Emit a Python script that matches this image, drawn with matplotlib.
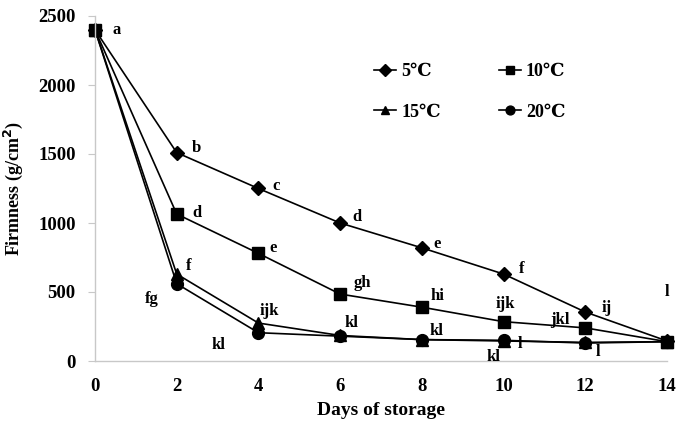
import matplotlib
matplotlib.use("Agg")
import matplotlib.pyplot as plt

plt.rcParams['font.family'] = ['Liberation Serif', 'DejaVu Serif']
plt.rcParams['font.weight'] = 'bold'

days = [0, 2, 4, 6, 8, 10, 12, 14]
firm_5 = [2400, 1510, 1250, 1000, 820, 630, 355, 145]
firm_10 = [2400, 1065, 780, 485, 390, 285, 240, 140]
firm_15 = [2400, 630, 275, 185, 155, 145, 135, 140]
firm_20 = [2400, 560, 205, 180, 155, 150, 130, 140]

series_names = ["5℃", "10℃", "15℃", "20℃"]
series_values = [firm_5, firm_10, firm_15, firm_20]
markers = ["D", "s", "^", "o"]
marker_sizes = [7.5, 8, 8.5, 8.5]

# significance letters (series index, day index, letter)
letters = [
    (0, 0, "a"), (0, 1, "b"), (0, 2, "c"), (0, 3, "d"), (0, 4, "e"),
    (0, 5, "f"), (0, 6, "ij"), (0, 7, "l"),
    (1, 1, "d"), (1, 2, "e"), (1, 3, "gh"), (1, 4, "hi"), (1, 5, "ijk"), (1, 6, "jkl"),
    (2, 1, "f"), (2, 2, "ijk"), (2, 3, "kl"), (2, 4, "kl"), (2, 5, "l"),
    (3, 1, "fg"), (3, 2, "kl"), (3, 5, "kl"), (3, 6, "l"),
]
# pixel offsets of each letter from its point
letter_offsets = [
    (22, 0), (20, 5), (18, 2), (17, 6), (15, 4),
    (18, 5), (21, 4), (0, 49),
    (20, 1), (15, 5), (22, 11), (16, 11), (2, 18), (-25, 8),
    (12, 8), (11, 12), (11, 12), (15, 9), (16, -3),
    (-25, -15), (-40, -12), (-10, -17), (13, -9),
]

fig = plt.figure(figsize=(6.77, 4.26), dpi=100)
ax = fig.add_axes([95 / 677, 1 - 361 / 426, (667 - 95) / 677, (361 - 16) / 426])

for name, vals, m, ms in zip(series_names, series_values, markers, marker_sizes):
    ax.plot(days, vals, color='black', lw=1.2, marker=m, markersize=ms, label=name)

for (si, di, txt), (dx, dy) in zip(letters, letter_offsets):
    ax.annotate(txt, (days[di], series_values[si][di]), xytext=(dx * 0.72, dy * 0.72),
                textcoords='offset points', ha='center', va='center',
                fontsize=12, fontweight='bold')

ax.set_xlim(0, 14)
ax.set_ylim(0, 2500)
ax.set_xticks(days)
ax.set_yticks([0, 500, 1000, 1500, 2000, 2500])
ax.spines['top'].set_visible(False)
ax.spines['right'].set_visible(False)
for s in ('left', 'bottom'):
    ax.spines[s].set_color('#c8c8c8')
    ax.spines[s].set_linewidth(1.0)
ax.tick_params(axis='y', direction='out', length=5, color='#c8c8c8', labelsize=13.5, pad=9)
ax.tick_params(axis='x', length=0, labelsize=13.5, pad=12)
for lab in ax.get_xticklabels() + ax.get_yticklabels():
    lab.set_fontweight('bold')
for line in ax.lines:
    line.set_clip_on(False)

ax.set_xlabel("Days of storage", fontsize=14, fontweight='bold', labelpad=5)
ax.set_ylabel("Firmness (g/cm$^\\mathbf{2}$)", fontsize=13, fontweight='bold')
ax.yaxis.set_label_coords(-0.122, 0.5)

# row-wise legend order: 5, 10 / 15, 20
handles, labels = ax.get_legend_handles_labels()
order = [0, 2, 1, 3]
ax.legend([handles[i] for i in order], [labels[i] for i in order],
          ncol=2, loc='upper left', bbox_to_anchor=(0.46, 0.91), frameon=False,
          handlelength=1.2, columnspacing=3.2, labelspacing=1.3, handletextpad=0.3,
          prop={'size': 13, 'weight': 'bold'}, markerscale=0.75)

fig.savefig("out.png", dpi=100)
